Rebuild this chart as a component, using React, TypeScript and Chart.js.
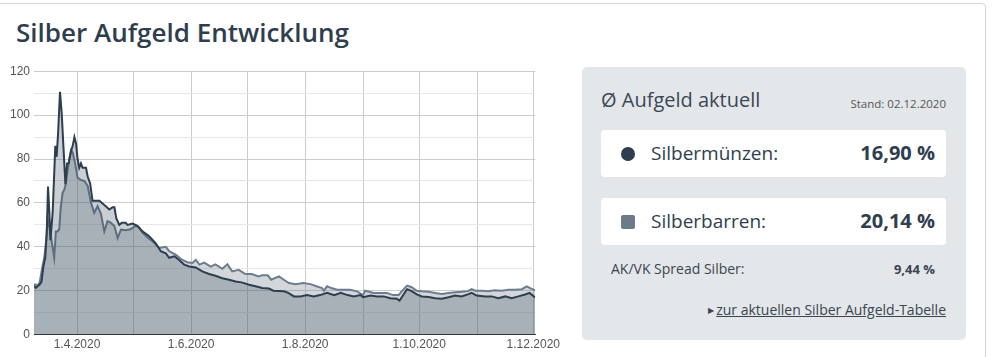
import React, { useEffect, useRef } from "react";
import { Chart, registerables } from "chart.js";

Chart.register(...registerables);

// x values are days counted from 1 March 2020 (1.3.2020 = 0)
const muenzenDays = [
  8, 9, 10, 11, 12, 13, 14, 14.8, 15.5, 16.2,
  16.8, 18, 19.4, 20.1, 20.9, 21.9, 22.8, 23.9, 24.8, 25.7,
  26.5, 27.8, 28.7, 29.6, 30.5, 31.3, 32.2, 33.1, 34, 35.8,
  36.7, 38, 39.3, 41, 43, 45.6, 47, 48.2, 50, 51,
  52, 53.6, 55, 57, 58, 60.7, 63.3, 66, 69.6, 73,
  75.8, 78.5, 80.3, 83, 85.6, 88.3, 91, 94.5, 98, 101.6,
  105, 108.7, 112.3, 115.8, 119, 123, 126.5, 130, 133.6, 136,
  141.6, 144, 147, 150.5, 154, 157.6, 161, 164.7, 168.6, 172,
  175.7, 179, 182.6, 184, 188, 191.4, 195, 198.5, 202, 203.5,
  205, 207.5, 210, 212.7, 215.4, 219, 222.5, 226, 229.7, 233.2,
  236.6, 240, 242, 244.7, 249.2, 252.8, 256.3, 260, 263.4, 267,
  270.6, 273, 276,
];
const muenzenValues = [
  22.3, 21.3, 22, 22.8, 24, 31, 35, 46, 67.5, 56,
  43, 56, 86, 81, 92, 110.6, 101, 83, 68.5, 78,
  78, 83.6, 86, 90, 87, 80, 76, 78, 76, 76,
  72, 69, 61, 61, 61, 59, 58, 57, 58, 58,
  53, 50, 51, 51, 50, 50.6, 49.6, 47, 44.8, 41.7,
  38, 37, 35, 35.7, 34, 31.9, 31, 30.6, 28.8, 27.6,
  26.8, 25.7, 25, 24.2, 23.8, 22.7, 22, 21.2, 21, 20,
  19.7, 19, 17.4, 17.4, 18, 17.4, 18, 19, 18, 19,
  18, 17.4, 18, 17, 17.8, 17.4, 17.4, 16.6, 16.3, 15.5,
  17.5, 20.7, 19.8, 18.3, 17.4, 17.1, 16.6, 16.3, 17, 17.8,
  17.4, 18.3, 19, 17.8, 17.4, 17.4, 16.6, 17.4, 16.6, 17.4,
  18.3, 19, 16.9,
];

const barrenDays = [
  8, 10, 11, 12.5, 13.5, 14.5, 15.3, 16.2, 17, 18.8,
  19.7, 20.5, 21.5, 22.3, 23.3, 24.2, 25.1, 26, 26.9, 27.8,
  28.7, 30, 31.3, 33, 34.9, 36.7, 38.5, 40.2, 42, 43.8,
  45.6, 47.3, 49, 51, 52.7, 54.5, 57, 59.6, 62.3, 64,
  66, 69, 71.4, 75, 78.5, 80.3, 83.7, 87.4, 90, 92.7,
  94.5, 96.5, 99, 102.5, 105, 108.7, 111.4, 114, 117.5, 121,
  124.5, 128, 130, 133, 134.8, 139, 141.6, 144.3, 147.9, 152,
  155.9, 159, 162, 163, 164.7, 167, 170, 173.7, 177, 180.7,
  184, 185, 189.7, 193, 196.7, 200, 203, 204.7, 207.5, 210,
  212.7, 215.4, 219, 222.5, 226, 229.7, 233.2, 236.6, 240, 242,
  244, 247.4, 251, 254.4, 258, 261.7, 265, 268.8, 271.5, 273,
  276,
];
const barrenValues = [
  23, 22.5, 23.5, 31, 35, 43, 53, 49, 45, 35,
  47, 47, 48, 58, 64.6, 66, 69, 75, 80, 84,
  83, 78, 71.5, 70.5, 70, 67.7, 60, 55.5, 58.5, 55,
  47, 51.7, 51, 49.5, 44, 47.8, 47.5, 48, 49.5, 49,
  46.5, 44, 42.5, 39.5, 40, 38, 36.4, 34, 33, 32.6,
  34, 31.9, 32.8, 31, 32, 30, 32, 28.8, 29.5, 27.6,
  27.6, 26.5, 27, 27, 25, 26.5, 25, 23.5, 23, 23.5,
  23, 22, 21.2, 20, 22, 21.2, 20.4, 20.4, 20.4, 19.7,
  18, 20, 19, 19, 19, 18, 18, 19.8, 22.3, 21.6,
  20, 19.7, 19.5, 19, 18.5, 19, 19.3, 19.5, 19.8, 20.7,
  20, 20, 19.7, 20.2, 20, 20.4, 20.4, 20.7, 22, 21.3,
  20.14,
];

const monthTickDays = [31, 61, 92, 122, 153, 184, 214, 245, 275];
const monthTickLabels = ["1.4.2020", "", "1.6.2020", "", "1.8.2020", "", "1.10.2020", "", "1.12.2020"];
const xMin = 8;
const xMax = 276;
const yMin = 0;
const yMax = 120;
const yStep = 10;
const yLabelStep = 20;

const seriesNames = ["Silbermünzen", "Silberbarren"];
const currentValues = ["16,90 %", "20,14 %"];
const spreadValue = "9,44 %";

function ChartCanvas() {
  const ref = useRef<HTMLCanvasElement | null>(null);
  useEffect(() => {
    if (!ref.current) return;
    const chart = new Chart(ref.current, {
      type: "line",
      data: {
        datasets: [
          {
            label: seriesNames[0],
            data: muenzenDays.map((d, i) => ({ x: d, y: muenzenValues[i] })),
            borderColor: "#2c3e50",
            backgroundColor: "rgba(44,62,80,0.25)",
            borderWidth: 2,
            pointRadius: 0,
            fill: "origin",
            tension: 0,
          },
          {
            label: seriesNames[1],
            data: barrenDays.map((d, i) => ({ x: d, y: barrenValues[i] })),
            borderColor: "#6c7d8e",
            backgroundColor: "rgba(108,122,137,0.3)",
            borderWidth: 2,
            pointRadius: 0,
            fill: "origin",
            tension: 0,
          },
        ],
      },
      options: {
        animation: false,
        responsive: true,
        maintainAspectRatio: false,
        layout: { padding: { top: 9, left: 0, right: 0, bottom: 0 } },
        plugins: { legend: { display: false }, tooltip: { enabled: false } },
        scales: {
          x: {
            type: "linear",
            min: xMin,
            max: xMax,
            afterBuildTicks: (scale: any) => {
              scale.ticks = monthTickDays.map((v) => ({ value: v }));
            },
            ticks: {
              autoSkip: false,
              maxRotation: 0,
              padding: 3,
              color: "#555",
              font: { family: "'Liberation Sans', Arial, sans-serif", size: 12 },
              callback: (v: any) => {
                const idx = monthTickDays.indexOf(Number(v));
                return idx >= 0 ? monthTickLabels[idx] : "";
              },
            },
            grid: { color: "#cccccc", drawTicks: false, lineWidth: 1 },
            border: { display: true, color: "#333", width: 1 },
          },
          y: {
            min: yMin,
            max: yMax,
            afterFit: (scale: any) => {
              scale.width = 34;
            },
            ticks: {
              stepSize: yStep,
              padding: 4,
              color: "#555",
              font: { family: "'Liberation Sans', Arial, sans-serif", size: 12 },
              callback: (v: any) => (Number(v) % yLabelStep === 0 ? String(v) : ""),
            },
            grid: {
              drawTicks: false,
              color: (ctx: any) => (ctx.tick && ctx.tick.value % yLabelStep === 0 ? "#cccccc" : "#e8e8e8"),
            },
            border: { display: false },
          },
        },
      },
    });
    return () => chart.destroy();
  }, []);
  return <canvas ref={ref} />;
}

const font = "'Open Sans', 'Noto Sans', sans-serif";

export default function App() {
  return (
    <div
      style={{
        position: "absolute",
        left: 0,
        top: 0,
        width: 998,
        height: 357,
        overflow: "hidden",
        background: "#fff",
        fontFamily: font,
      }}
    >
      <div
        style={{
          position: "absolute",
          left: -6,
          top: 3,
          width: 992,
          height: 420,
          border: "1px solid #d3d8dd",
          borderRadius: 4,
          boxSizing: "border-box",
        }}
      />
      <div
        style={{
          position: "absolute",
          left: 16,
          top: 14,
          fontSize: 26,
          fontWeight: 600,
          lineHeight: "36px",
          color: "#2f3e4e",
          whiteSpace: "nowrap",
        }}
      >
        Silber Aufgeld Entwicklung
      </div>
      <div style={{ position: "absolute", left: 0, top: 60, width: 563, height: 295 }}>
        <ChartCanvas />
      </div>

      <div
        style={{
          position: "absolute",
          left: 582,
          top: 67,
          width: 384,
          height: 273,
          background: "#e4e7ea",
          borderRadius: 5,
        }}
      >
        <div
          style={{
            position: "absolute",
            left: 19,
            top: 19,
            fontSize: 20,
            lineHeight: "28px",
            color: "#3a4856",
            whiteSpace: "nowrap",
          }}
        >
          Ø Aufgeld aktuell
        </div>
        <div
          style={{
            position: "absolute",
            right: 20,
            top: 29,
            fontSize: 11.5,
            lineHeight: "16px",
            color: "#555",
            whiteSpace: "nowrap",
          }}
        >
          Stand: 02.12.2020
        </div>

        {[0, 1].map((i) => (
          <div
            key={i}
            style={{
              position: "absolute",
              left: 19,
              top: i === 0 ? 63 : 131,
              width: 345,
              height: 47,
              background: "#fff",
              borderRadius: 4,
            }}
          >
            <div
              style={{
                position: "absolute",
                left: 20,
                top: 17,
                width: 14,
                height: 14,
                borderRadius: i === 0 ? 7 : 2,
                background: i === 0 ? "#2c3e50" : "#6c7a89",
              }}
            />
            <div
              style={{
                position: "absolute",
                left: 50,
                top: 9,
                fontSize: 19,
                lineHeight: "28px",
                color: "#2f3e4e",
                whiteSpace: "nowrap",
              }}
            >
              {seriesNames[i]}:
            </div>
            <div
              style={{
                position: "absolute",
                right: 11,
                top: 8,
                fontSize: 20,
                lineHeight: "30px",
                fontWeight: 700,
                color: "#2f3e4e",
                whiteSpace: "nowrap",
              }}
            >
              {currentValues[i]}
            </div>
          </div>
        ))}

        <div
          style={{
            position: "absolute",
            left: 29,
            top: 192,
            fontSize: 14,
            lineHeight: "20px",
            color: "#3a4550",
            whiteSpace: "nowrap",
          }}
        >
          AK/VK Spread Silber:
        </div>
        <div
          style={{
            position: "absolute",
            right: 31,
            top: 192,
            fontSize: 13,
            lineHeight: "20px",
            fontWeight: 700,
            color: "#3a4550",
            whiteSpace: "nowrap",
          }}
        >
          {spreadValue}
        </div>
        <div
          style={{
            position: "absolute",
            right: 20,
            top: 233,
            fontSize: 14,
            lineHeight: "20px",
            color: "#3a4550",
            whiteSpace: "nowrap",
          }}
        >
          <span style={{ fontSize: 8, marginRight: 2, position: "relative", top: -2 }}>▶</span>
          <span style={{ textDecoration: "underline" }}>zur aktuellen Silber Aufgeld-Tabelle</span>
        </div>
      </div>
    </div>
  );
}
